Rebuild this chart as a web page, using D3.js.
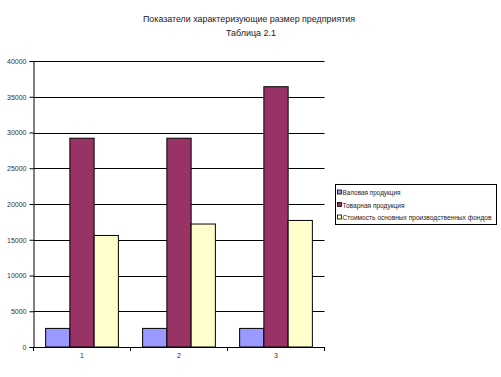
<!DOCTYPE html>
<html><head><meta charset="utf-8">
<script src="https://cdn.jsdelivr.net/npm/d3@7"></script>
<style>body{margin:0;background:#fff}svg{display:block}text{font-family:"Liberation Sans",Arial,sans-serif}</style>
</head><body><svg id="c" width="501" height="377"></svg>
<script>
const categories = ["1","2","3"];
const seriesNames = ["Валовая продукция","Товарная продукция","Стоимость основных производственных фондов"];
const valovaya = [2600, 2600, 2600];
const tovarnaya = [29200, 29200, 36400];
const stoimost = [15600, 17200, 17700];
const yTicks = [0,5000,10000,15000,20000,25000,30000,35000,40000];
const colors = ["#9999FF","#993366","#FFFFCC"];
const series = [valovaya, tovarnaya, stoimost];

const svg = d3.select("#c");
const L=33.5, R=324.5, T=61, B=347;
const x = d3.scaleBand().domain(categories).range([L,R]).paddingInner(0.25).paddingOuter(0.125);
const xs = d3.scaleBand().domain(d3.range(3)).range([0,x.bandwidth()]);
const y = d3.scaleLinear().domain([0,40000]).range([B,T]);

svg.append("text").attr("x",249).attr("y",22).attr("text-anchor","middle").attr("font-size",8.5).attr("fill","#222")
 .attr("textLength",212).attr("lengthAdjust","spacingAndGlyphs").text("Показатели характеризующие размер предприятия");
svg.append("text").attr("x",251).attr("y",36).attr("text-anchor","middle").attr("font-size",8.5).attr("fill","#222")
 .attr("textLength",50).attr("lengthAdjust","spacingAndGlyphs").text("Таблица 2.1");

// grid
svg.append("g").selectAll("line").data(yTicks.filter(d=>d>0)).join("line")
 .attr("x1",L).attr("x2",R).attr("y1",d=>Math.round(y(d))+0.5).attr("y2",d=>Math.round(y(d))+0.5)
 .attr("stroke","#000").attr("stroke-width",1);

// bars
const g = svg.append("g");
series.forEach((s,i)=>{
  g.selectAll(null).data(s).join("rect")
   .attr("x",(d,j)=>x(categories[j])+xs(i))
   .attr("y",d=>y(d))
   .attr("width",xs.bandwidth())
   .attr("height",d=>B-y(d))
   .attr("fill",colors[i]).attr("stroke","#000").attr("stroke-width",1);
});

// y axis
const ya = svg.append("g").attr("transform",`translate(${L},0)`).call(d3.axisLeft(y).tickValues(yTicks).tickSize(4).tickFormat(d3.format("d")));
ya.select(".domain").attr("stroke","#000");
ya.selectAll("text").attr("font-size",7).attr("fill","#333").attr("font-family","Liberation Sans, Arial, sans-serif");
ya.selectAll("line").attr("stroke","#000");

// x axis
const xa = svg.append("g").attr("transform",`translate(0,${B})`).call(d3.axisBottom(x).tickSize(0));
xa.select(".domain").attr("stroke","#000").attr("d",`M${L},0.5H${R}`);
xa.selectAll("text").attr("font-size",7).attr("fill","#333").attr("dy","1.2em").attr("font-family","Liberation Sans, Arial, sans-serif");
svg.append("g").selectAll("line").data(d3.range(4)).join("line")
 .attr("x1",d=>L+d*(R-L)/3).attr("x2",d=>L+d*(R-L)/3).attr("y1",B).attr("y2",B+4).attr("stroke","#000");

// legend
const legendLens = [58, 62, 149];
const lg = svg.append("g");
lg.append("rect").attr("x",335.5).attr("y",184.5).attr("width",161).attr("height",40).attr("fill","#fff").attr("stroke","#000");
seriesNames.forEach((n,i)=>{
  const yy = 192.5 + i*12.5;
  lg.append("rect").attr("x",337.5).attr("y",yy-2.5).attr("width",4).attr("height",4).attr("fill",colors[i]).attr("stroke","#000").attr("stroke-width",0.8);
  lg.append("text").attr("x",342.5).attr("y",yy+2.5).attr("font-size",7).attr("fill","#222")
   .attr("textLength",legendLens[i]).attr("lengthAdjust","spacingAndGlyphs").text(n);
});
</script></body></html>
